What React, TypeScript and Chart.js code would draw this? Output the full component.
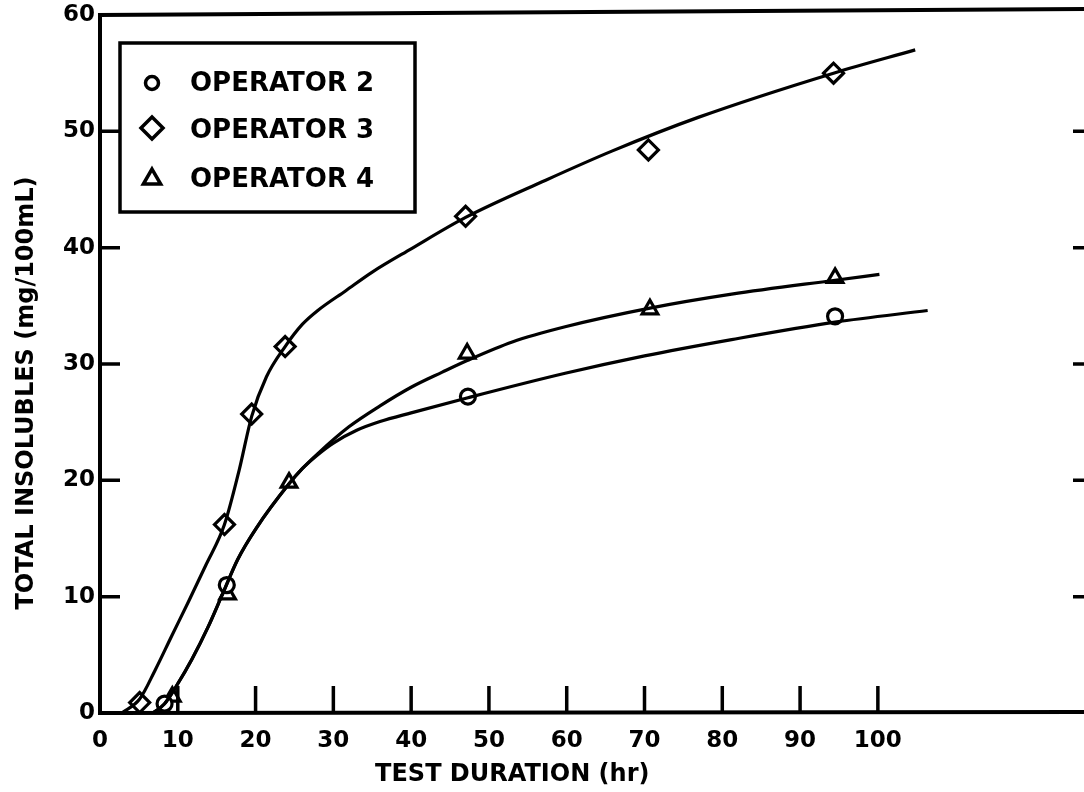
import React, { useEffect, useRef } from 'react';
import { Chart, registerables } from 'chart.js';

Chart.register(...registerables);

// ---- axis / text content ----
const xTickValues = [0, 10, 20, 30, 40, 50, 60, 70, 80, 90, 100];
const yTickValues = [0, 10, 20, 30, 40, 50, 60];
const innerTickValuesY = [10, 20, 30, 40, 50];
const innerTickValuesX = [10, 20, 30, 40, 50, 60, 70, 80, 90, 100];
const xMin = 0;
const xMax = 126.5;
const yMin = 0;
const yMax = 60;
const xTitle = 'TEST DURATION (hr)';
const yTitle = 'TOTAL INSOLUBLES (mg/100mL)';
const legendLabels = ['OPERATOR 2', 'OPERATOR 3', 'OPERATOR 4'];

// ---- measured points ----
const op2X = [8.3, 16.3, 47.3, 94.5];
const op2Y = [0.8, 11.0, 27.2, 34.1];
const op3X = [5.1, 16.0, 19.5, 23.8, 47.0, 70.5, 94.3];
const op3Y = [0.9, 16.2, 25.7, 31.5, 42.7, 48.4, 55.0];
const op4X = [9.3, 16.4, 24.3, 47.2, 70.7, 94.5];
const op4Y = [1.4, 10.2, 19.8, 30.9, 34.7, 37.4];

// ---- fitted curves ----
const op2CurveX = [6.8, 8.3, 9.8, 11.8, 13.9, 15.8, 17.7, 20.1, 24.3, 26, 28, 30, 33, 36, 40, 47.3, 59.8, 70, 81.2, 94.5, 106.4];
const op2CurveY = [0, 0.8, 2.3, 4.6, 7.4, 10.3, 13.2, 15.9, 19.7, 21.0, 22.2, 23.2, 24.3, 25.05, 25.8, 27.1, 29.2, 30.7, 32.1, 33.6, 34.6];
const op3CurveX = [2.8, 5.1, 7.1, 9.2, 11.4, 13.6, 16.0, 17.9, 19.5, 21.4, 23.8, 26, 28, 31.6, 35, 40, 47, 57.3, 65.8, 76.9, 94.3, 104.8];
const op3CurveY = [0, 1.2, 3.7, 6.6, 9.6, 12.7, 16.2, 20.9, 25.5, 28.9, 31.5, 33.4, 34.6, 36.3, 37.9, 39.9, 42.6, 45.8, 48.3, 51.2, 55.0, 57.0];
const op4CurveX = [6.8, 8.3, 9.8, 11.8, 13.9, 15.8, 17.7, 20.1, 24.3, 26, 28, 32, 36, 40, 44, 47.2, 53, 59.8, 70.7, 81.2, 94.5, 100.2];
const op4CurveY = [0, 0.8, 2.3, 4.6, 7.4, 10.3, 13.2, 15.9, 19.7, 21.0, 22.3, 24.6, 26.4, 28.0, 29.3, 30.3, 31.9, 33.2, 34.8, 36.0, 37.2, 37.7];

const FONT = '"DejaVu Sans", "Liberation Sans", Arial, sans-serif';

const zip = (xs: number[], ys: number[]) => xs.map((x, i) => ({ x, y: ys[i] }));

function drawMarker(ctx: CanvasRenderingContext2D, style: string, x: number, y: number, r: number, lw: number) {
  ctx.save();
  ctx.beginPath();
  if (style === 'circle') {
    ctx.arc(x, y, r, 0, Math.PI * 2);
  } else if (style === 'rectRot') {
    ctx.moveTo(x - r, y);
    ctx.lineTo(x, y - r);
    ctx.lineTo(x + r, y);
    ctx.lineTo(x, y + r);
    ctx.closePath();
  } else {
    const a = (2 * Math.PI) / 3;
    ctx.moveTo(x, y - r);
    ctx.lineTo(x + Math.sin(a) * r, y - Math.cos(a) * r);
    ctx.lineTo(x + Math.sin(2 * a) * r, y - Math.cos(2 * a) * r);
    ctx.closePath();
  }
  ctx.fillStyle = '#fff';
  ctx.fill();
  ctx.lineWidth = lw;
  ctx.strokeStyle = '#000';
  ctx.lineJoin = 'miter';
  ctx.stroke();
  ctx.restore();
}

const framePlugin = {
  id: 'frame',
  afterDraw(chart: any) {
    const ctx: CanvasRenderingContext2D = chart.ctx;
    const { left, right, top, bottom } = chart.chartArea;
    const xs = chart.scales.x;
    const ys = chart.scales.y;
    ctx.save();
    ctx.strokeStyle = '#000';
    ctx.lineCap = 'butt';
    // frame
    ctx.lineWidth = 4;
    ctx.beginPath();
    ctx.moveTo(left, top - 1);
    ctx.lineTo(left, bottom + 2);
    ctx.moveTo(left - 2, bottom);
    ctx.lineTo(right, bottom - 1);
    ctx.moveTo(left - 2, top);
    ctx.lineTo(right, top - 6);
    ctx.stroke();
    // inward ticks
    ctx.lineWidth = 3.5;
    ctx.beginPath();
    innerTickValuesY.forEach((v) => {
      const py = ys.getPixelForValue(v);
      ctx.moveTo(left, py);
      ctx.lineTo(left + 20, py);
      ctx.moveTo(right - 11, py);
      ctx.lineTo(right, py);
    });
    innerTickValuesX.forEach((v) => {
      const px = xs.getPixelForValue(v);
      ctx.moveTo(px, bottom);
      ctx.lineTo(px, bottom - 27);
    });
    ctx.stroke();

    // legend box
    ctx.lineWidth = 3.5;
    ctx.strokeRect(120, 43, 295, 169);
    const styles = ['circle', 'rectRot', 'triangle'];
    const radii = [6.5, 11, 10];
    const markY = [83, 128, 179];
    const textY = [91, 138, 187];
    ctx.fillStyle = '#000';
    ctx.font = `bold 26px ${FONT}`;
    ctx.textAlign = 'left';
    ctx.textBaseline = 'alphabetic';
    legendLabels.forEach((lab, i) => {
      drawMarker(ctx, styles[i], 152, markY[i], radii[i], 3.5);
      ctx.fillStyle = '#000';
      ctx.fillText(lab, 190, textY[i]);
    });

    // axis titles
    ctx.font = `bold 24px ${FONT}`;
    ctx.textAlign = 'center';
    ctx.textBaseline = 'alphabetic';
    ctx.fillText(xTitle, xs.getPixelForValue(53), 781);
    ctx.save();
    ctx.translate(33, 393);
    ctx.rotate(-Math.PI / 2);
    ctx.fillText(yTitle, 0, 0);
    ctx.restore();
    ctx.restore();
  },
};

export default function App() {
  const ref = useRef<HTMLCanvasElement | null>(null);
  useEffect(() => {
    if (!ref.current) return;
    const lineDs = (xs: number[], ys: number[]) => ({
      type: 'line' as const,
      data: zip(xs, ys),
      showLine: true,
      borderColor: '#000',
      borderWidth: 3.2,
      pointRadius: 0,
      cubicInterpolationMode: 'monotone' as const,
      fill: false,
    });
    const markDs = (xs: number[], ys: number[], style: string, r: number) => ({
      type: 'scatter' as const,
      data: zip(xs, ys),
      showLine: false,
      pointStyle: style,
      pointRadius: r,
      pointBorderWidth: 3.2,
      pointBorderColor: '#000',
      pointBackgroundColor: '#fff',
      borderColor: '#000',
      backgroundColor: '#fff',
    });
    const tickFont = { family: FONT, size: 23, weight: 'bold' as const };
    const chart = new Chart(ref.current, {
      type: 'scatter',
      data: {
        datasets: [
          lineDs(op3CurveX, op3CurveY),
          lineDs(op4CurveX, op4CurveY),
          lineDs(op2CurveX, op2CurveY),
          markDs(op2X, op2Y, 'circle', 7.5),
          markDs(op3X, op3Y, 'rectRot', 10),
          markDs(op4X, op4Y, 'triangle', 9),
        ] as any,
      },
      options: {
        responsive: false,
        animation: false,
        devicePixelRatio: 1,
        layout: { autoPadding: false, padding: { top: 15, right: 0, left: 0, bottom: 0 } },
        plugins: { legend: { display: false }, tooltip: { enabled: false } },
        scales: {
          x: {
            type: 'linear',
            min: xMin,
            max: xMax,
            grid: { display: false, drawTicks: false },
            border: { display: false },
            ticks: { font: tickFont, color: '#000', padding: 14, maxRotation: 0, autoSkip: false },
            afterBuildTicks: (s: any) => {
              s.ticks = xTickValues.map((v) => ({ value: v }));
            },
            afterFit: (s: any) => {
              s.height = 79;
              s.paddingLeft = 0;
              s.paddingRight = 0;
            },
          },
          y: {
            type: 'linear',
            min: yMin,
            max: yMax,
            grid: { display: false, drawTicks: false },
            border: { display: false },
            ticks: { font: tickFont, color: '#000', padding: 5 },
            afterBuildTicks: (s: any) => {
              s.ticks = yTickValues.map((v) => ({ value: v }));
            },
            afterFit: (s: any) => {
              s.width = 100;
              s.paddingTop = 0;
              s.paddingBottom = 0;
            },
          },
        },
      },
      plugins: [framePlugin],
    } as any);
    return () => chart.destroy();
  }, []);
  return (
    <div style={{ position: 'fixed', left: 0, top: 0, width: 1084, height: 792, background: '#fff', overflow: 'hidden' }}>
      <canvas ref={ref} width={1084} height={792} style={{ display: 'block' }} />
    </div>
  );
}
